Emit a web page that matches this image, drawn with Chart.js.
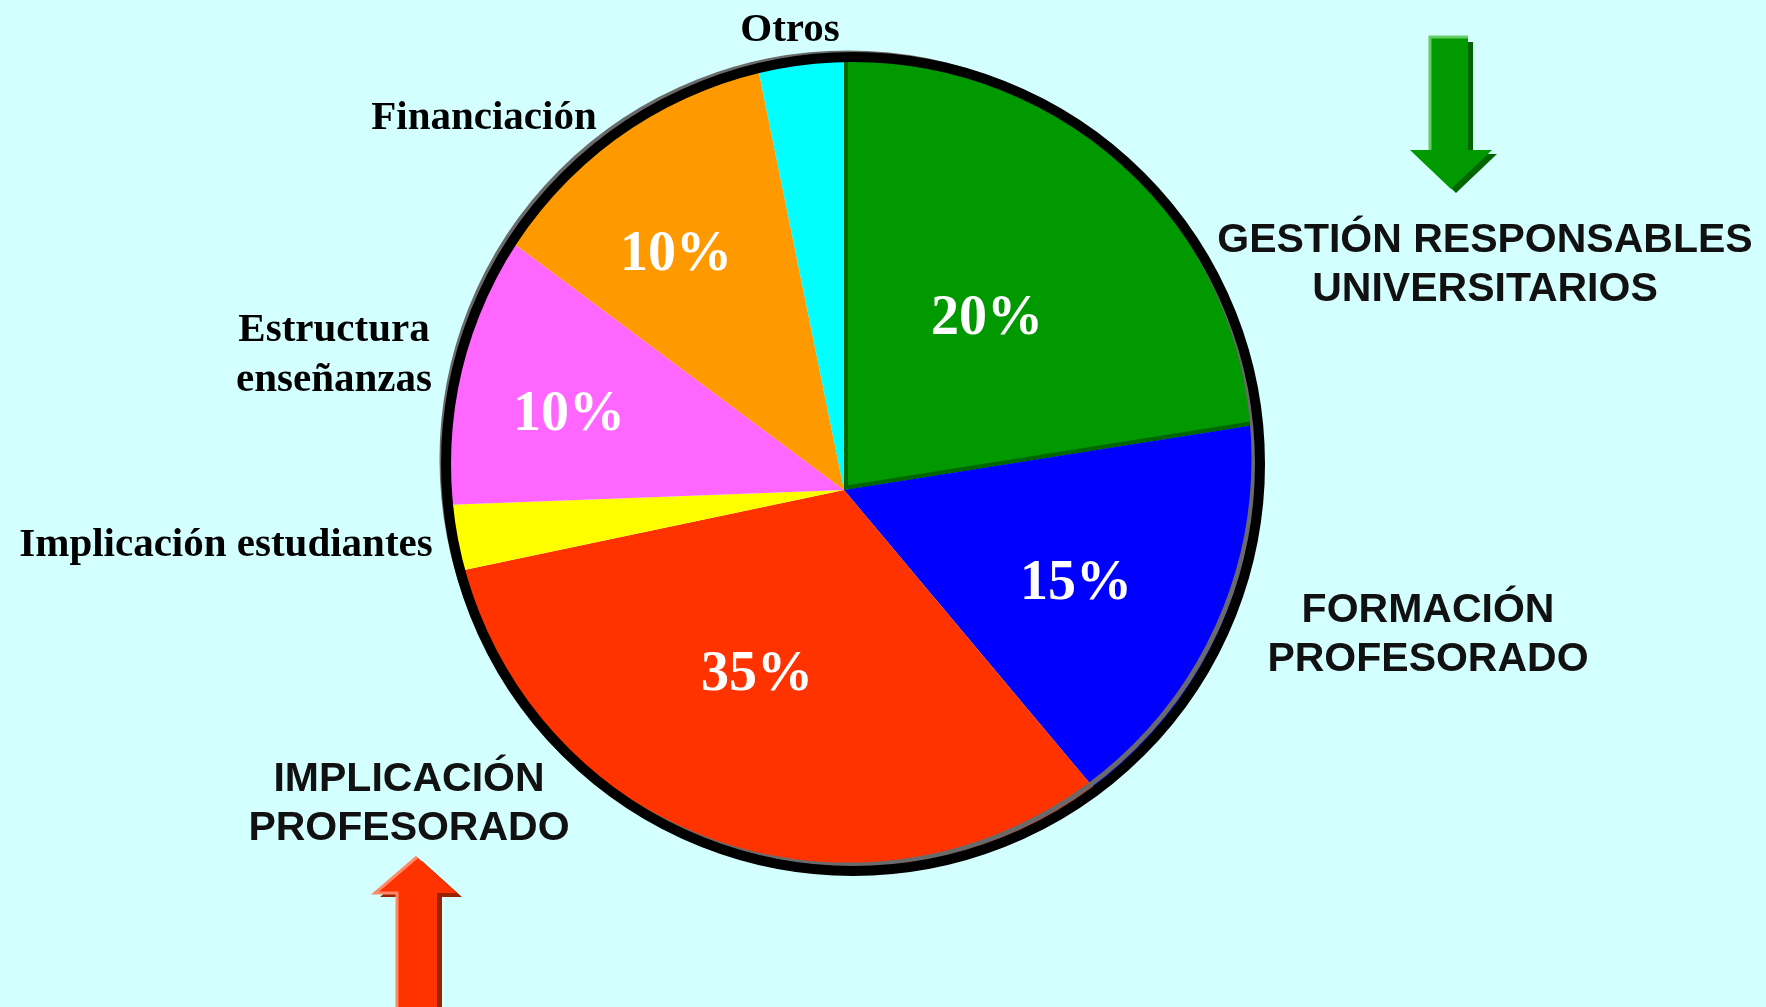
<!DOCTYPE html>
<html>
<head>
<meta charset="utf-8">
<script src="https://cdn.jsdelivr.net/npm/chart.js@4/dist/chart.umd.min.js"></script>
<style>
  html, body { margin: 0; padding: 0; background: #d4ffff; }
  #wrap { position: relative; width: 1766px; height: 1007px; overflow: hidden; }
  #pie { position: absolute; left: 0; top: 0; }
  .lbl { position: absolute; transform: translate(-50%, -50%); white-space: pre; text-align: center; color: #000; }
  .serif { font-family: "Liberation Serif", "Times New Roman", serif; font-weight: bold; font-size: 41px; line-height: 50px; }
  .sans { font-family: "Liberation Sans", Arial, sans-serif; font-weight: bold; font-size: 41px; line-height: 49px; color: #111; }
  .pct { font-family: "Liberation Serif", "Times New Roman", serif; font-weight: bold; font-size: 56px; line-height: 56px; color: #fff; }
  svg { position: absolute; left: 0; top: 0; }
</style>
</head>
<body>
<div id="wrap">
  <canvas id="pie" width="1766" height="1007"></canvas>
  <svg width="1766" height="1007">
    <!-- green arrow, pointing down -->
    <polygon points="1435,42 1473,42 1473,154 1497,154 1456,193 1415,154 1435,154" fill="#006600"/>
    <polygon points="1430,37 1468,37 1468,150 1492,150 1451,189 1410,150 1430,150" fill="#009900"/>
    <polyline points="1430,150 1430,37 1468,37" fill="none" stroke="#66cc66" stroke-width="3"/>
    <!-- red arrow, pointing up -->
    <polygon points="422,861 462,897 442,897 442,1007 402,1007 402,897 380,897" fill="#992200"/>
    <polygon points="417,857 457,893 437,893 437,1007 397,1007 397,893 375,893" fill="#ff3300"/>
    <polyline points="397,1007 397,893 375,893 417,857" fill="none" stroke="#ff8866" stroke-width="3"/>
  </svg>
  <div id="labels"></div>
</div>
<script>
// slice data, clockwise from the top
const categories = ['Gestión responsables universitarios', 'Formación profesorado', 'Implicación profesorado',
                    'Implicación estudiantes', 'Estructura enseñanzas', 'Financiación', 'Otros'];
const shares = [22.5, 16.4, 32.8, 2.7, 10.8, 11.6, 3.2];
const pctText = ['20%', '15%', '35%', '', '10%', '10%', ''];
const sliceColors = ['#009900', '#0000ff', '#ff3300', '#ffff00', '#ff66ff', '#ff9900', '#00ffff'];
const sliceEdges = ['#006600', '#0000ff', '#ff3300', '#ffff00', '#ff66ff', '#ff9900', '#00ffff'];

// text around the pie: [text, x, y, class]
const outerLabels = [
  ['Otros', 790, 27, 'serif'],
  ['Financiación', 484, 115, 'serif'],
  ['Estructura\nenseñanzas', 334, 352, 'serif'],
  ['Implicación estudiantes', 226, 542, 'serif'],
  ['GESTIÓN RESPONSABLES\nUNIVERSITARIOS', 1485, 263, 'sans'],
  ['FORMACIÓN\nPROFESORADO', 1428, 633, 'sans'],
  ['IMPLICACIÓN\nPROFESORADO', 409, 802, 'sans']
];
const pctPos = [[987, 315], [1076, 580], [757, 671], null, [569, 411], [676, 251], null];

const holder = document.getElementById('labels');
function addLabel(text, x, y, cls) {
    const d = document.createElement('div');
    d.className = 'lbl ' + cls;
    d.textContent = text;
    d.style.left = x + 'px';
    d.style.top = y + 'px';
    holder.appendChild(d);
}
outerLabels.forEach(l => addLabel(l[0], l[1], l[2], l[3]));
pctText.forEach((t, i) => { if (t && pctPos[i]) addLabel(t, pctPos[i][0], pctPos[i][1], 'pct'); });

// the pie apex sits below the centre of its round face (tilted look):
// slices are drawn round the apex and clipped to the face circle
const face = { dx: 9, dy: -26, r: 403 };

const rimPlugin = {
    id: 'rim',
    beforeDatasetsDraw(chart) {
        const arc = chart.getDatasetMeta(0).data[0];
        if (!arc) return;
        const ctx = chart.ctx;
        ctx.save();
        ctx.beginPath();
        ctx.arc(arc.x + face.dx, arc.y + face.dy, face.r, 0, Math.PI * 2);
        ctx.clip();
    },
    afterDatasetsDraw(chart) {
        const arc = chart.getDatasetMeta(0).data[0];
        if (!arc) return;
        const ctx = chart.ctx;
        ctx.restore();
        const cx = arc.x + face.dx, cy = arc.y + face.dy;
        ctx.save();
        // grey shading ring, shifted up-left
        ctx.beginPath();
        ctx.arc(cx - 5, cy - 5, face.r + 3, 0, Math.PI * 2);
        ctx.lineWidth = 5;
        ctx.strokeStyle = '#6a6a6a';
        ctx.stroke();
        // black rim
        ctx.beginPath();
        ctx.arc(cx, cy, face.r + 4, 0, Math.PI * 2);
        ctx.lineWidth = 10;
        ctx.strokeStyle = '#000';
        ctx.stroke();
        ctx.restore();
    }
};

new Chart(document.getElementById('pie'), {
    type: 'pie',
    data: {
        labels: categories,
        datasets: [{
            data: shares,
            backgroundColor: sliceColors,
            borderColor: sliceEdges,
            borderWidth: [4, 0, 0, 0, 0, 0, 0],
            borderAlign: 'inner'
        }]
    },
    options: {
        responsive: false,
        animation: false,
        devicePixelRatio: 1,
        rotation: 0,
        layout: { padding: { top: 50, bottom: 77, left: 404, right: 482 } },
        plugins: { legend: { display: false }, tooltip: { enabled: false } }
    },
    plugins: [rimPlugin]
});
</script>
</body>
</html>
